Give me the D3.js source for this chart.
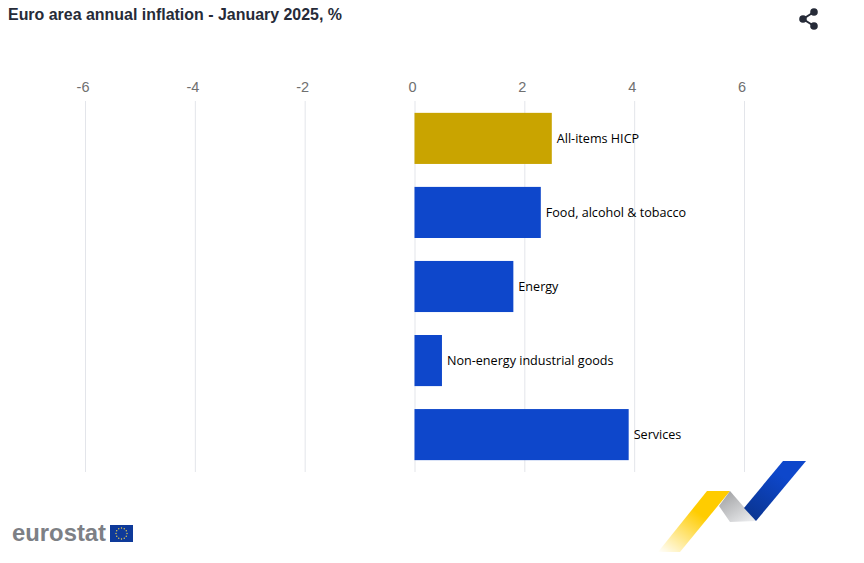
<!DOCTYPE html>
<html><head><meta charset="utf-8">
<script src="https://cdn.jsdelivr.net/npm/d3@7"></script>
<style>html,body{margin:0;padding:0;background:#fff}svg{display:block}</style>
</head><body><svg id="c" width="864" height="563"></svg>
<script>
const categories = ["All-items HICP","Food, alcohol & tobacco","Energy","Non-energy industrial goods","Services"];
const values = [2.5,2.3,1.8,0.5,3.9];
const barColors = ["#c9a400","#0e47cb","#0e47cb","#0e47cb","#0e47cb"];
const tickValues = [-6,-4,-2,0,2,4,6];
const svg = d3.select("#c");
const x = d3.scaleLinear().domain([-6,6]).range([85,744]);
const y = d3.scaleBand().domain(categories).range([101,472]).paddingInner(0.31).paddingOuter(0.16);
const defs = svg.append("defs");
const g1 = defs.append("linearGradient").attr("id","gy").attr("x1",0).attr("y1",1).attr("x2",0.55).attr("y2",0.35);
g1.append("stop").attr("offset",0).attr("stop-color","#ffcc00").attr("stop-opacity",0);
g1.append("stop").attr("offset",1).attr("stop-color","#ffcc00");
const g2 = defs.append("linearGradient").attr("id","gg").attr("x1",0.1).attr("y1",0.1).attr("x2",0.8).attr("y2",1);
g2.append("stop").attr("offset",0).attr("stop-color","#a3a4a6");
g2.append("stop").attr("offset",1).attr("stop-color","#e9eaec");
const g3 = defs.append("linearGradient").attr("id","gb").attr("x1",0.2).attr("y1",1).attr("x2",0.7).attr("y2",0.3);
g3.append("stop").attr("offset",0).attr("stop-color","#0a3592");
g3.append("stop").attr("offset",1).attr("stop-color","#0e47cb");

svg.append("text").attr("x",8).attr("y",20).attr("font-family","Liberation Sans").attr("font-weight",700)
  .attr("font-size",16).attr("textLength",334).attr("lengthAdjust","spacingAndGlyphs").attr("fill","#262b38").text("Euro area annual inflation - January 2025, %");

// share icon
const sh = svg.append("g").attr("fill","#262b38").attr("stroke","#262b38");
sh.append("path").attr("d","M814 12L803 19L814 26").attr("fill","none").attr("stroke-width",2);
[[814,12,3.8],[803,19,3.8],[814,26,3.8]].forEach(d=>sh.append("circle").attr("cx",d[0]).attr("cy",d[1]).attr("r",d[2]).attr("stroke","none"));

// axis
const axis = d3.axisTop(x).tickValues(tickValues).tickSize(0).tickPadding(0).tickFormat(d=>String(d));
const ax = svg.append("g").attr("transform","translate(0,91.5)").call(axis);
ax.select(".domain").remove();
ax.selectAll("text").attr("x",-2.5).attr("y",0).attr("font-family","Liberation Sans").attr("font-size",14.5).attr("fill","#707070");

svg.append("g").selectAll("line").data(tickValues).join("line")
  .attr("x1",d=>x(d)+0.5).attr("x2",d=>x(d)+0.5).attr("y1",101).attr("y2",472)
  .attr("stroke","#e3e5ea").attr("stroke-width",1);

svg.append("g").selectAll("rect").data(values).join("rect")
  .attr("x",x(0)).attr("y",(d,i)=>y(categories[i]))
  .attr("width",d=>x(d)-x(0)).attr("height",y.bandwidth())
  .attr("fill",(d,i)=>barColors[i]);

svg.append("g").selectAll("text").data(values).join("text")
  .attr("x",d=>x(d)+5).attr("y",(d,i)=>y(categories[i])+y.bandwidth()/2+4.5)
  .attr("font-family","Open Sans").attr("font-size",12.6).attr("fill","#000")
  .text((d,i)=>categories[i]);

// eurostat logo
svg.append("text").attr("x",12).attr("y",541).attr("font-family","Liberation Sans").attr("font-weight",700)
  .attr("font-size",24).attr("textLength",94).attr("lengthAdjust","spacingAndGlyphs").attr("fill","#7d8085").text("eurostat");
svg.append("rect").attr("x",110).attr("y",525).attr("width",23).attr("height",17).attr("fill","#0e3a9a");
const stars = svg.append("g").attr("fill","#e8cf50");
d3.range(12).forEach(i=>{const a=i*Math.PI/6;stars.append("circle").attr("cx",121.5+5.5*Math.cos(a)).attr("cy",533.5+5.5*Math.sin(a)).attr("r",0.7);});

// ribbon
svg.append("path").attr("d","M658 552L707 491L730 491L680 552Z").attr("fill","url(#gy)");
svg.append("path").attr("d","M719 506L730 491L756 521L730 522Z").attr("fill","url(#gg)");
svg.append("path").attr("d","M744 508L783 461L806 461L756 521Z").attr("fill","url(#gb)");
</script></body></html>
